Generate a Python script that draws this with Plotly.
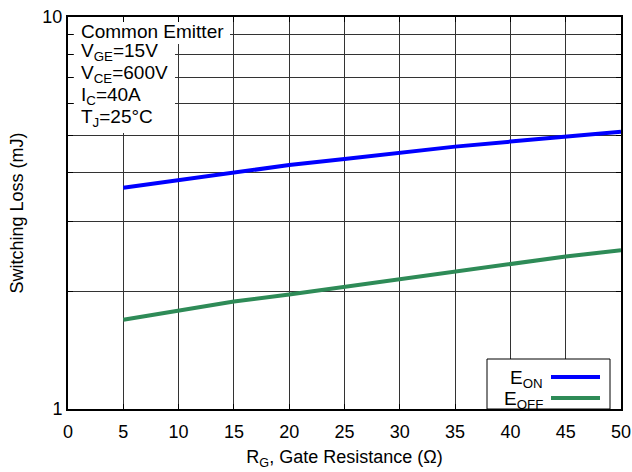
import plotly.graph_objects as go

rg = [5, 10, 15, 20, 25, 30, 35, 40, 45, 50]
e_on = [3.67, 3.84, 4.02, 4.19, 4.34, 4.51, 4.67, 4.81, 4.95, 5.10]
e_off = [1.69, 1.78, 1.88, 1.96, 2.05, 2.14, 2.24, 2.34, 2.45, 2.54]
x_ticks = [0, 5, 10, 15, 20, 25, 30, 35, 40, 45, 50]
y_ticks = [1, 2, 3, 4, 5, 6, 7, 8, 9, 10]
y_ticktext = ["1", "", "", "", "", "", "", "", "", "10"]
cond_title = "Common Emitter"
cond_lines = ["V<sub>GE</sub>=15V", "V<sub>CE</sub>=600V", "I<sub>C</sub>=40A", "T<sub>J</sub>=25°C"]

BLUE = "#0000FF"
GREEN = "#2E8B57"
FONT = "Liberation Sans, Arial, sans-serif"
ANN_SIZE = 19

fig = go.Figure()
fig.add_trace(go.Scatter(x=rg, y=e_on, mode="lines", line=dict(color=BLUE, width=4), showlegend=False))
fig.add_trace(go.Scatter(x=rg, y=e_off, mode="lines", line=dict(color=GREEN, width=4), showlegend=False))

W, H = 632, 472
L, R, T, B = 68, 11, 17, 63
pw, ph = W - L - R, H - T - B

def px(xp):
    return (xp - L) / pw

def py(yp):
    return (H - B - yp) / ph

shapes = [
    dict(type="rect", xref="paper", yref="paper", x0=px(487), x1=px(610), y0=0, y1=py(359),
         fillcolor="white", line=dict(color="black", width=1), layer="above"),
    dict(type="line", xref="paper", yref="paper", x0=px(551), x1=px(600), y0=py(377), y1=py(377),
         line=dict(color=BLUE, width=4), layer="above"),
    dict(type="line", xref="paper", yref="paper", x0=px(551), x1=px(600), y0=py(398), y1=py(398),
         line=dict(color=GREEN, width=4), layer="above"),
]

annotations = [
    # white backgrounds of the condition block
    dict(text=" ", xref="paper", yref="paper", x=px(74), y=py(22), xanchor="left", yanchor="top",
         width=230 - 74, height=44 - 22, bgcolor="white", borderpad=0, borderwidth=0, showarrow=False),
    dict(text=" ", xref="paper", yref="paper", x=px(74), y=py(44), xanchor="left", yanchor="top",
         width=175 - 74, height=133 - 44, bgcolor="white", borderpad=0, borderwidth=0, showarrow=False),
    dict(text=cond_title, xref="paper", yref="paper", x=px(79), y=py(32),
         xanchor="left", yanchor="middle", showarrow=False, font=dict(size=ANN_SIZE, color="black")),
]
ys = [52, 74, 96, 118]
for t, yy in zip(cond_lines, ys):
    annotations.append(dict(text=t, xref="paper", yref="paper", x=px(79), y=py(yy),
                            xanchor="left", yanchor="middle", showarrow=False,
                            font=dict(size=ANN_SIZE, color="black")))
annotations.append(dict(text="E<sub>ON</sub>", xref="paper", yref="paper", x=px(545), y=py(379),
                        xanchor="right", yanchor="middle", showarrow=False, font=dict(size=ANN_SIZE, color="black")))
annotations.append(dict(text="E<sub>OFF</sub>", xref="paper", yref="paper", x=px(545), y=py(400),
                        xanchor="right", yanchor="middle", showarrow=False, font=dict(size=ANN_SIZE, color="black")))

fig.update_layout(
    width=W, height=H,
    margin=dict(l=L, r=R, t=T, b=B),
    paper_bgcolor="white", plot_bgcolor="white",
    font=dict(family=FONT, size=18, color="black"),
    shapes=shapes, annotations=annotations,
    showlegend=False,
)
fig.update_xaxes(
    range=[0, 50], tickvals=x_ticks, showgrid=True, gridcolor="#333333", gridwidth=1,
    showline=True, linecolor="black", linewidth=2, mirror="ticks",
    ticks="inside", ticklen=5, tickcolor="black", zeroline=False, automargin=False,
    ticklabelstandoff=5,
    title=dict(text="R<sub>G</sub>, Gate Resistance (Ω)", font=dict(size=18), standoff=10),
    tickfont=dict(size=18),
)
fig.update_yaxes(
    type="log", range=[0, 1], tickvals=y_ticks, ticktext=y_ticktext,
    showgrid=True, gridcolor="#333333", gridwidth=1,
    showline=True, linecolor="black", linewidth=2, mirror="ticks",
    ticks="inside", ticklen=5, tickcolor="black", zeroline=False, automargin=False,
    title=dict(text="Switching Loss (mJ)", font=dict(size=18), standoff=14),
    tickfont=dict(size=18),
)

fig.write_html("out.html", config={"displayModeBar": False},
               post_script="document.body.style.margin='0px';")
